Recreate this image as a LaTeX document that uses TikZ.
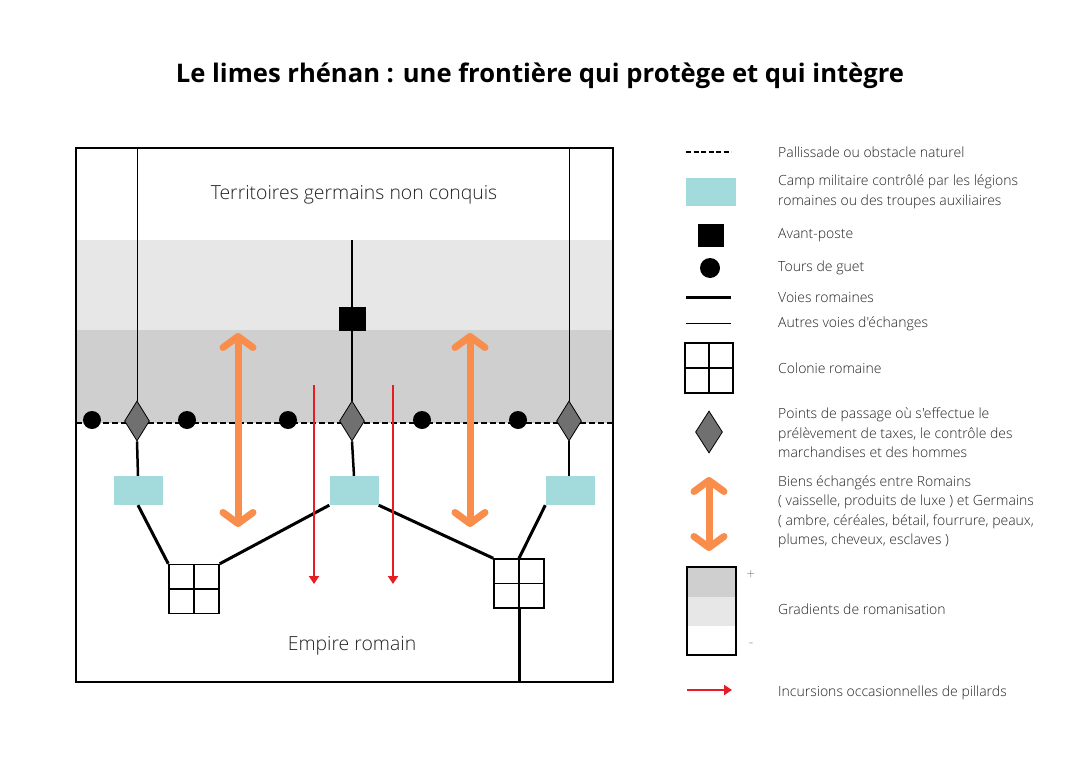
\documentclass[tikz,border=0pt]{standalone}
\usepackage{fontspec}
\setmainfont{Open Sans}[UprightFont=* Light, BoldFont=* Bold, Ligatures=TeXOff]
\usetikzlibrary{shapes.geometric, arrows.meta}
\definecolor{campcol}{RGB}{163,219,220}
\definecolor{orangeA}{RGB}{249,142,76}
\definecolor{redA}{RGB}{230,30,35}
\definecolor{gDark}{RGB}{207,207,207}
\definecolor{gLight}{RGB}{231,231,231}
\definecolor{diacol}{RGB}{112,112,112}
\definecolor{txt}{RGB}{35,35,35}
\tikzset{
  campbox/.style={fill=campcol, minimum width=49pt, minimum height=29pt, inner sep=0pt},
  tower/.style={circle, fill=black, minimum size=18pt, inner sep=0pt},
  outpost/.style={fill=black, minimum width=27pt, minimum height=24pt, inner sep=0pt},
  passage/.style={diamond, draw=black, line width=0.8pt, fill=diacol, minimum width=25pt, minimum height=40pt, inner sep=0pt},
  colony/.style={draw, line width=1.5pt, minimum width=50pt, minimum height=49pt, inner sep=0pt},
  road/.style={line width=3pt},
  thinroad/.style={line width=1pt},
  palis/.style={line width=2.5pt, dash pattern=on 6pt off 3pt},
  trade/.style={orangeA, line width=7pt, {Straight Barb[length=11pt,width=30pt,round]}-{Straight Barb[length=11pt,width=30pt,round]}},
  raid/.style={redA, line width=2.5pt, -{Triangle[length=8pt,width=10pt]}},
  maplabel/.style={font=\fontsize{19.4}{22}\selectfont, text=txt, inner sep=0pt},
  legtext/.style={font=\fontsize{14}{19.5}\selectfont, text=txt, anchor=west, align=left, inner sep=0pt},
}
\begin{document}
\begin{tikzpicture}[x=1pt, y=-1pt]
\useasboundingbox (0,0) rectangle (1080,763);
\fill[white] (0,0) rectangle (1080,763);
% title
\node[font=\fontsize{25.6}{28}\selectfont\bfseries, inner sep=0pt] (title) at (540,76) {Le limes rhénan : une frontière qui protège et qui intègre};
% map background bands
\fill[gLight] (76,240) rectangle (613,330);
\fill[gDark] (76,330) rectangle (613,423);
% palissade
\coordinate (pw) at (76,423);
\coordinate (pe) at (613,423);
\draw[palis] (pw) -- (pe);
% labels
\node[maplabel] (nord) at (354,195) {Territoires germains non conquis};
\node[maplabel] (sud) at (352,646) {Empire romain};
% towers
\node[tower] (t1) at (92,420) {};
\node[tower] (t2) at (187,420) {};
\node[tower] (t3) at (288,420) {};
\node[tower] (t4) at (422,420) {};
\node[tower] (t5) at (518,420) {};
% passages
\node[passage] (d1) at (137,421) {};
\node[passage] (d2) at (352,421) {};
\node[passage] (d3) at (569,421) {};
% outpost
\node[outpost] (op) at (352,319) {};
% camps
\node[campbox] (c1) at (138,490.5) {};
\node[campbox] (c2) at (354,490.5) {};
\node[campbox] (c3) at (570,490.5) {};
% colonies
\node[colony] (col1) at (194,589) {};
\draw[line width=1.5pt] (col1.north) -- (col1.south) (col1.west) -- (col1.east);
\node[colony] (col2) at (519,583.5) {};
\draw[line width=1.5pt] (col2.north) -- (col2.south) (col2.west) -- (col2.east);
% other roads (thin)
\coordinate (n1) at (137,148);
\coordinate (n3) at (569,148);
\coordinate (n2) at (352,240);
\draw[thinroad] (n1) -- (d1.north);
\draw[thinroad] (n3) -- (d3.north);
\draw[line width=1.8pt] (n2) -- (op.north);
\draw[line width=1.8pt] (op.south) -- (d2.north);
% roman roads
\draw[line width=2.5pt] (d1.south) -- (c1.north);
\draw[line width=2.5pt] (d2.south) -- (c2.north);
\draw[line width=2pt] (d3.south) -- (d3.south |- c3.north);
\draw[road] (c1.south) -- (col1.north west);
\draw[road] (col1.north east) -- (c2.south west);
\draw[road] (c2.south east) -- (col2.north west);
\draw[road] (c3.south west) -- (col2.north);
\coordinate (sb) at (519,682);
\draw[road] (col2.south) -- (sb);
% trade arrows
\coordinate (a1t) at (238,333);
\coordinate (a1b) at (238,527);
\coordinate (a2t) at (470,333);
\coordinate (a2b) at (470,527);
\draw[trade] (a1t) -- (a1b);
\draw[trade] (a2t) -- (a2b);
% raids
\coordinate (r1t) at (314,385);
\coordinate (r1b) at (314,584);
\coordinate (r2t) at (393,385);
\coordinate (r2b) at (393,584);
\draw[raid] (r1t) -- (r1b);
\draw[raid] (r2t) -- (r2b);
% frame
\draw[line width=2.5pt] (76,148) rectangle (613,682);

% ---------- legend ----------
\coordinate (l1a) at (686,152);
\coordinate (l1b) at (731,152);
\draw[line width=2.5pt, dash pattern=on 5pt off 2.5pt] (l1a) -- (l1b);
\node[legtext] (lt1) at (778,152) {Pallissade ou obstacle naturel};

\node[campbox, minimum width=50pt, minimum height=28pt] (lcamp) at (711,192) {};
\node[legtext] (lt2) at (778,192) {Camp militaire contrôlé par les légions\\romaines ou des troupes auxiliaires};

\node[outpost, minimum width=26pt, minimum height=23pt] (lop) at (711,235) {};
\node[legtext] (lt3) at (778,235) {Avant-poste};

\node[tower, minimum size=20pt] (ltw) at (710,268) {};
\node[legtext] (lt4) at (778,268) {Tours de guet};

\coordinate (l5a) at (686,297);
\coordinate (l5b) at (731,297);
\draw[road] (l5a) -- (l5b);
\node[legtext] (lt5) at (778,297) {Voies romaines};

\coordinate (l6a) at (686,323);
\coordinate (l6b) at (731,323);
\draw[thinroad] (l6a) -- (l6b);
\node[legtext] (lt6) at (778,324) {Autres voies d'échanges};

\node[colony, minimum width=48pt, minimum height=50pt] (lcol) at (709,368) {};
\draw[line width=1.5pt] (lcol.north) -- (lcol.south) (lcol.west) -- (lcol.east);
\node[legtext] (lt7) at (778,368) {Colonie romaine};

\node[passage, minimum width=27pt, minimum height=42pt] (ldia) at (709,432) {};
\node[legtext] (lt8) at (778,433) {Points de passage où s'effectue le\\prélèvement de taxes, le contrôle des\\marchandises et des hommes};

\coordinate (l9a) at (709,477);
\coordinate (l9b) at (709,551);
\draw[trade] (l9a) -- (l9b);
\node[legtext] (lt9) at (778,512) {Biens échangés entre Romains\\( vaisselle, produits de luxe ) et Germains\\( ambre, céréales, bétail, fourrure, peaux,\\plumes, cheveux, esclaves )};

\fill[gDark] (687,567) rectangle (736,597);
\fill[gLight] (687,597) rectangle (736,626);
\node[draw, line width=1.2pt, minimum width=49pt, minimum height=88pt, inner sep=0pt] (lgrad) at (711.5,611) {};
\node[font=\fontsize{15}{16}\selectfont, text=gray, inner sep=0pt] (lplus) at (751,575) {+};
\node[font=\fontsize{15}{16}\selectfont, text=gray, inner sep=0pt] (lminus) at (751,645) {-};
\node[legtext] (lt10) at (778,609) {Gradients de romanisation};

\coordinate (l11a) at (687,690);
\coordinate (l11b) at (732,690);
\draw[raid] (l11a) -- (l11b);
\node[legtext] (lt11) at (778,693) {Incursions occasionnelles de pillards};
\end{tikzpicture}
\end{document}
